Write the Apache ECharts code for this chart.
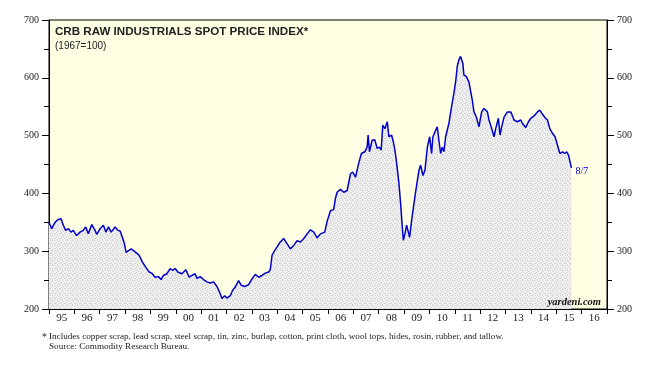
<!DOCTYPE html>
<html><head><meta charset="utf-8">
<script src="https://cdn.jsdelivr.net/npm/echarts@6/dist/echarts.min.js"></script>
<style>html,body{margin:0;padding:0;background:#fff}#c{width:652px;height:367px}</style>
</head><body><div id="c"></div>
<script>
const yearLabels = ['95','96','97','98','99','00','01','02','03','04','05','06','07','08','09','10','11','12','13','14','15','16'];
const yTicks = [200,300,400,500,600,700];
const titleText = 'CRB RAW INDUSTRIALS SPOT PRICE INDEX*';
const subtitleText = '(1967=100)';
const footnote1 = 'Includes copper scrap, lead scrap, steel scrap, tin, zinc, burlap, cotton, print cloth, wool tops, hides, rosin, rubber, and tallow.';
const footnote2 = 'Source: Commodity Research Bureau.';
const brand = 'yardeni.com';

const dates = [
'1995-01-01','1995-02-09','1995-03-28','1995-05-15','1995-06-23','1995-07-26','1995-08-29','1995-10-06','1995-11-14','1995-12-17',
'1996-02-04','1996-03-22','1996-05-09','1996-06-13','1996-07-20','1996-09-08','1996-10-26','1996-11-19',
'1997-01-06','1997-02-23','1997-03-29','1997-05-06','1997-06-14','1997-08-10','1997-09-18','1997-10-21','1997-11-23','1997-12-22',
'1998-01-15','1998-02-18','1998-03-28','1998-05-01','1998-06-04','1998-07-22','1998-09-08','1998-10-27','1998-12-13',
'1999-01-21','1999-03-09','1999-04-26','1999-06-04','1999-07-07','1999-08-25','1999-10-12','1999-11-14','1999-12-23',
'2000-01-31','2000-03-28','2000-05-25','2000-07-12','2000-08-20','2000-10-06','2000-11-01','2000-12-18',
'2001-02-04','2001-03-24','2001-05-11','2001-06-28','2001-08-16','2001-09-23','2001-10-27','2001-12-04',
'2002-01-07','2002-02-24','2002-03-28','2002-05-06','2002-06-23','2002-08-01','2002-09-18','2002-11-15',
'2003-01-02','2003-02-19','2003-04-08','2003-05-27','2003-07-13','2003-08-30','2003-09-23','2003-10-18','2003-11-24','2003-12-28',
'2004-02-14','2004-04-02','2004-05-21','2004-07-08','2004-08-25','2004-10-13','2004-11-30',
'2005-01-17','2005-03-07','2005-04-23','2005-06-10','2005-07-28','2005-09-14','2005-11-15','2005-12-20',
'2006-02-05','2006-03-24','2006-04-17','2006-05-12','2006-06-29','2006-08-16','2006-10-04','2006-11-21','2006-12-24',
'2007-02-01','2007-03-19','2007-04-27','2007-06-14','2007-07-18','2007-08-02','2007-08-21','2007-09-29','2007-11-05','2007-12-10',
'2008-01-12','2008-02-06','2008-02-29','2008-03-30','2008-05-04','2008-05-27','2008-07-05','2008-07-30','2008-08-22','2008-09-16','2008-10-19','2008-11-12','2008-12-06','2008-12-21',
'2009-01-13','2009-02-06','2009-03-03','2009-03-21','2009-04-19','2009-05-22','2009-06-26','2009-08-03','2009-08-27','2009-09-29','2009-10-28','2009-12-02',
'2010-01-04','2010-02-01','2010-02-20','2010-03-31','2010-04-24','2010-05-17','2010-06-11','2010-07-05','2010-07-28','2010-08-22','2010-10-08','2010-11-16','2010-12-19',
'2011-01-13','2011-02-06','2011-03-01','2011-03-25','2011-04-27','2011-05-12','2011-06-16','2011-07-23','2011-08-18','2011-09-11','2011-10-04','2011-11-08','2011-12-15',
'2012-01-23','2012-02-25','2012-04-15','2012-05-08','2012-06-16','2012-07-19','2012-08-12','2012-09-20','2012-10-13','2012-11-06','2012-12-10',
'2013-01-29','2013-03-18','2013-05-04','2013-06-22','2013-08-08','2013-09-02','2013-10-19','2013-11-27','2013-12-30',
'2014-02-16','2014-04-05','2014-05-09','2014-06-17','2014-07-24','2014-08-28','2014-09-30','2014-11-08','2014-12-15',
'2015-01-20','2015-02-22','2015-04-01','2015-05-05','2015-06-03','2015-06-27','2015-07-30','2015-08-07'
];
const values = [
350,339,350,355,356,345,336,339,333,336,
327,333,336,342,330,346,336,329,
339,345,333,342,333,342,336,335,324,313,
298,301,304,301,298,293,281,272,264,
262,255,256,251,258,261,270,267,270,
264,261,268,255,258,261,253,256,
251,247,245,247,239,229,218,223,
219,223,232,238,249,241,239,242,
252,260,255,258,262,264,268,293,301,307,
316,322,313,304,310,318,316,
322,330,337,333,323,330,333,352,
370,372,391,402,407,402,405,434,437,
428,452,469,472,480,501,472,492,493,478,
480,475,518,512,524,498,501,489,475,452,417,382,342,319,
330,345,333,324,353,382,411,440,449,431,440,480,
498,469,498,509,515,492,469,480,472,498,521,550,573,
593,620,631,637,625,605,602,593,576,561,541,532,515,
541,547,541,527,512,498,512,530,501,515,532,
541,541,527,524,527,521,514,524,530,
534,541,544,537,531,527,512,504,498,
483,469,472,469,472,466,449,444
];

const seriesData = dates.map((d, i) => [d, values[i]]);

// fine stipple pattern for the area under the line
const pat = document.createElement('canvas');
pat.width = 5; pat.height = 5;
const pc = pat.getContext('2d');
pc.fillStyle = '#f1f1f1'; pc.fillRect(0, 0, 5, 5);
pc.fillStyle = '#d2d2d2';
[[0,0],[3,1],[1,2],[4,3],[2,4],[2,0],[0,3]].forEach(p => pc.fillRect(p[0], p[1], 1, 1));

const serif = '"Liberation Serif", "Times New Roman", serif';
const sans = '"Liberation Sans", Arial, sans-serif';

const chart = echarts.init(document.getElementById('c'), null, {renderer: 'canvas'});
const yAxisBase = {
  type: 'value', min: yTicks[0], max: yTicks[yTicks.length - 1], interval: 100,
  splitLine: {show: false},
  axisLine: {show: true, lineStyle: {color: '#000', width: 1}},
  axisTick: {show: true, length: 7, lineStyle: {color: '#000'}},
  minorTick: {show: true, splitNumber: 2, length: 5, lineStyle: {color: '#000'}},
  axisLabel: {fontFamily: serif, fontSize: 10, color: '#222', margin: 10}
};
chart.setOption({
  animation: false,
  backgroundColor: '#fff',
  grid: {left: 49, right: 45, top: 20, bottom: 58, show: true, backgroundColor: '#FFFFE3', borderColor: '#000', borderWidth: 1},
  title: [{
    text: titleText, subtext: subtitleText, left: 50, top: 21, itemGap: 3,
    textStyle: {fontFamily: sans, fontSize: 11.6, fontWeight: 'bold', color: '#222'},
    subtextStyle: {fontFamily: sans, fontSize: 10, color: '#222'}
  }],
  xAxis: [{
    type: 'category', data: yearLabels, boundaryGap: true, position: 'bottom',
    axisLine: {lineStyle: {color: '#000'}},
    axisTick: {show: true, interval: 0, length: 5, alignWithLabel: false, lineStyle: {color: '#000'}},
    axisLabel: {interval: 0, fontFamily: serif, fontSize: 11, color: '#222', margin: 4},
    splitLine: {show: false}
  }, {
    type: 'time', min: '1995-01-01', max: '2017-01-01', show: false, splitLine: {show: false}
  }],
  yAxis: [
    Object.assign({}, yAxisBase, {position: 'left'}),
    Object.assign({}, yAxisBase, {position: 'right'})
  ],
  series: [{
    type: 'line', xAxisIndex: 1, yAxisIndex: 0, data: seriesData,
    showSymbol: false, symbol: 'none',
    lineStyle: {color: '#0000CC', width: 1.5},
    areaStyle: {color: {image: pat, repeat: 'repeat'}, opacity: 1, origin: 'start'},
    endLabel: {
      show: true, distance: 4, offset: [0, 3],
      fontFamily: serif, fontSize: 10, color: '#0000CC',
      formatter: p => { const d = new Date(p.value[0]); return (d.getMonth() + 1) + '/' + d.getDate(); }
    }
  }],
  graphic: [
    {type: 'text', z: 100, left: 42, top: 332, style: {text: '*', font: '10px ' + serif, fill: '#222'}},
    {type: 'text', z: 100, left: 49, top: 332, style: {text: footnote1, font: '9.15px ' + serif, fill: '#222'}},
    {type: 'text', z: 100, left: 49, top: 342, style: {text: footnote2, font: '9.15px ' + serif, fill: '#222'}},
    {type: 'text', z: 100, right: 51, top: 297, style: {text: brand, font: 'italic bold 10.5px ' + serif, fill: '#111'}}
  ]
});
</script></body></html>
